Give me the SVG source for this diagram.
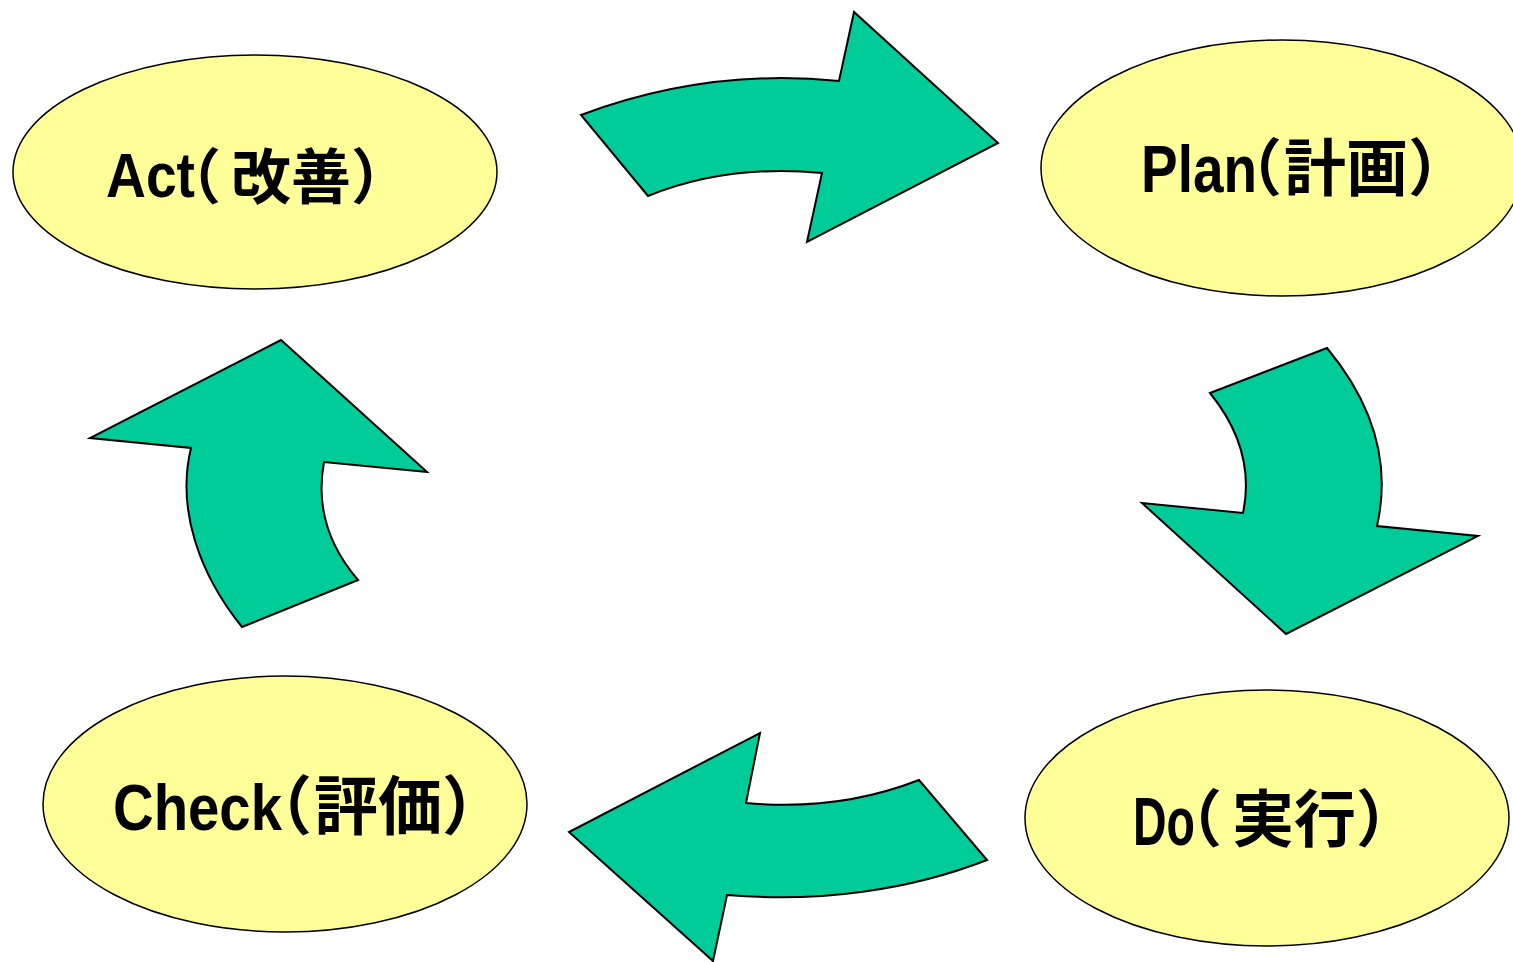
<svg xmlns="http://www.w3.org/2000/svg" width="1513" height="962" viewBox="0 0 1513 962">
<style>
.node ellipse{fill:#FFFF99;stroke:#000;stroke-width:1.5}
.lat{font-family:"Liberation Sans",Arial,sans-serif;font-weight:bold}
.cjk{font-family:"Noto Sans CJK JP","Noto Sans CJK SC",sans-serif;font-weight:bold;fill:#000}
.hw{font-feature-settings:"halt" 1}
.arr path{fill:#00CC99;stroke:#000;stroke-width:2;stroke-linejoin:miter}
</style>
<rect width="1513" height="962" fill="#fff"/>
<g id="connectors" class="arr">
<path d="M581,115 C680,78 770,74 839,81 L854,12 L998,143 L807,242 L822,173 C760,167 700,175 648,196 Z"/>
<path d="M1210,393 L1327,348 C1370,400 1392,460 1377,526 L1478,536 L1286,634 L1142,503 L1243,513 C1252,470 1240,430 1210,393 Z"/>
<path d="M987,860 L919,780 C860,803 800,808 746,803 L760,733 L569,832 L713,961 L727,895 C820,903 910,890 987,860 Z"/>
<path d="M242,627 C200,575 176,510 191,448 L90,438 L281,340 L427,472 L324,462 C316,505 328,545 358,580 Z"/>
</g>
<g id="act" class="node">
<ellipse cx="255" cy="172" rx="242" ry="117"/>
<text class="cjk" y="199" font-size="60"><tspan class="lat" x="106" y="197" font-size="63" textLength="89" lengthAdjust="spacingAndGlyphs">Act</tspan><tspan class="hw" x="191" y="199">（</tspan><tspan x="231">改善）</tspan></text>
</g>
<g id="plan" class="node">
<ellipse cx="1282" cy="168" rx="241" ry="128"/>
<text class="cjk" y="191" font-size="62"><tspan class="lat" x="1141" y="192" font-size="67" textLength="116" lengthAdjust="spacingAndGlyphs">Plan</tspan><tspan class="hw" x="1251" y="191">（</tspan><tspan x="1284">計画）</tspan></text>
</g>
<g id="check" class="node">
<ellipse cx="285" cy="804" rx="242" ry="128"/>
<text class="cjk" y="829" font-size="64"><tspan class="lat" x="113" y="830" font-size="65" textLength="169" lengthAdjust="spacingAndGlyphs">Check</tspan><tspan class="hw" x="280" y="829">（</tspan><tspan x="314">評価）</tspan></text>
</g>
<g id="do" class="node">
<ellipse cx="1267" cy="818" rx="242" ry="128"/>
<text class="cjk" y="842" font-size="62"><tspan class="lat" x="1133" y="845" font-size="69" textLength="62" lengthAdjust="spacingAndGlyphs">Do</tspan><tspan class="hw" x="1191" y="842">（</tspan><tspan x="1232">実行）</tspan></text>
</g>
</svg>
